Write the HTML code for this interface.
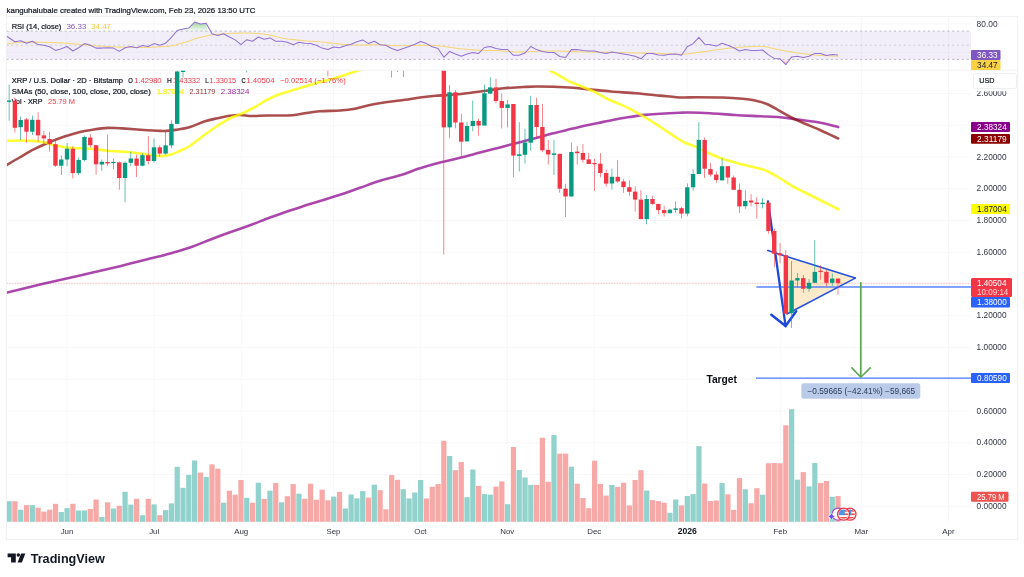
<!DOCTYPE html>
<html lang="en"><head><meta charset="utf-8"><title>XRP / U.S. Dollar chart</title>
<style>html,body{margin:0;padding:0;background:#fff}svg{display:block;filter:blur(0.35px)}</style></head>
<body>
<svg width="1024" height="577" viewBox="0 0 1024 577" font-family="'Liberation Sans', Arial, sans-serif">
<defs><clipPath id="cm"><rect x="6.4" y="70.2" width="964.6" height="452"/></clipPath><clipPath id="cr"><rect x="6.4" y="16.4" width="964.6" height="53.8"/></clipPath><linearGradient id="gg" x1="0" y1="0" x2="0" y2="1"><stop offset="0" stop-color="#4caf50" stop-opacity="0.55"/><stop offset="1" stop-color="#4caf50" stop-opacity="0.05"/></linearGradient><linearGradient id="rg" x1="0" y1="0" x2="0" y2="1"><stop offset="0" stop-color="#f23645" stop-opacity="0.05"/><stop offset="1" stop-color="#f23645" stop-opacity="0.45"/></linearGradient><clipPath id="f1"><circle cx="843.6" cy="514.2" r="4.8"/></clipPath><clipPath id="f2"><circle cx="850" cy="514.2" r="4.8"/></clipPath></defs>
<rect width="1024" height="577" fill="#fff"/>
<text x="6.6" y="12.7" font-size="8.1" fill="#131722" textLength="248.9" lengthAdjust="spacingAndGlyphs" stroke="#131722" stroke-width="0.22">kanguhalubale created with TradingView.com, Feb 23, 2026 13:50 UTC</text>
<g stroke="#f7f7f9" stroke-width="1" fill="none">
<line x1="67" y1="16.4" x2="67" y2="522"/>
<line x1="154" y1="16.4" x2="154" y2="522"/>
<line x1="241.25" y1="16.4" x2="241.25" y2="522"/>
<line x1="333.5" y1="16.4" x2="333.5" y2="522"/>
<line x1="420.25" y1="16.4" x2="420.25" y2="522"/>
<line x1="507.25" y1="16.4" x2="507.25" y2="522"/>
<line x1="594" y1="16.4" x2="594" y2="522"/>
<line x1="687" y1="16.4" x2="687" y2="522"/>
<line x1="780.3" y1="16.4" x2="780.3" y2="522"/>
<line x1="861.3" y1="16.4" x2="861.3" y2="522"/>
<line x1="948.5" y1="16.4" x2="948.5" y2="522"/>
<line x1="6.4" y1="506.3" x2="971" y2="506.3"/>
<line x1="6.4" y1="474.54" x2="971" y2="474.54"/>
<line x1="6.4" y1="442.78" x2="971" y2="442.78"/>
<line x1="6.4" y1="411.02" x2="971" y2="411.02"/>
<line x1="6.4" y1="379.26" x2="971" y2="379.26"/>
<line x1="6.4" y1="347.5" x2="971" y2="347.5"/>
<line x1="6.4" y1="315.74" x2="971" y2="315.74"/>
<line x1="6.4" y1="283.98" x2="971" y2="283.98"/>
<line x1="6.4" y1="252.22" x2="971" y2="252.22"/>
<line x1="6.4" y1="220.46" x2="971" y2="220.46"/>
<line x1="6.4" y1="188.7" x2="971" y2="188.7"/>
<line x1="6.4" y1="156.94" x2="971" y2="156.94"/>
<line x1="6.4" y1="125.18" x2="971" y2="125.18"/>
<line x1="6.4" y1="93.42" x2="971" y2="93.42"/>
<line x1="6.4" y1="24" x2="971" y2="24"/>
<line x1="6.4" y1="52.3" x2="971" y2="52.3"/>
</g>
<rect x="6.4" y="31.1" width="964.6" height="28.3" fill="#7e57c2" fill-opacity="0.1"/>
<g stroke="#a3a5ad" stroke-width="0.75" stroke-dasharray="2.1 2.75" fill="none">
<line x1="6.4" y1="31.1" x2="971" y2="31.1"/>
<line x1="6.4" y1="45.2" x2="971" y2="45.2" stroke-opacity="0.6"/>
<line x1="6.4" y1="59.4" x2="971" y2="59.4"/>
</g>
<text x="11.7" y="29.2" font-size="7.6" fill="#131722" textLength="49.7" lengthAdjust="spacingAndGlyphs" stroke="#131722" stroke-width="0.22">RSI (14, close)</text>
<text x="66.4" y="29.2" font-size="7.6" fill="#7e57c2" textLength="20" lengthAdjust="spacingAndGlyphs">36.33</text>
<text x="91.2" y="29.2" font-size="7.6" fill="#f7c843" textLength="19.8" lengthAdjust="spacingAndGlyphs">34.47</text>
<g clip-path="url(#cr)">
<path d="M176.2,31.1 L177.2,30.5 183,28.9 188.79,28 194.59,22.1 200.38,24.1 206.18,23.3 L207.68,31.1 Z" fill="url(#gg)"/>
<path d="M780.63,59.4 L785.83,64.7 L789.63,59.4 Z" fill="url(#rg)"/>
<path d="M6.4,44.2 C8.58,43.87 14.07,42.53 19.5,42.2 C24.93,41.87 32.48,42.1 39,42.2 C45.52,42.3 52.1,42.47 58.6,42.8 C65.1,43.13 71.48,43.65 78,44.2 C84.52,44.75 91.2,45.62 97.7,46.1 C104.2,46.58 110.5,46.87 117,47.1 C123.5,47.33 130.2,47.5 136.7,47.5 C143.2,47.5 150.12,47.4 156,47.1 C161.88,46.8 167.08,46.52 172,45.7 C176.92,44.88 180.92,43.55 185.5,42.2 C190.08,40.85 195.53,38.73 199.5,37.6 C203.47,36.47 206.05,35.97 209.3,35.4 C212.55,34.83 215.75,34.53 219,34.2 C222.25,33.87 225.53,33.6 228.8,33.4 C232.07,33.2 235.33,33.07 238.6,33 C241.87,32.93 245.17,32.9 248.4,33 C251.63,33.1 254.73,33.3 258,33.6 C261.27,33.9 264.72,34.23 268,34.8 C271.28,35.37 274.47,36.32 277.7,37 C280.93,37.68 284.15,38.42 287.4,38.9 C290.65,39.38 293.93,39.57 297.2,39.9 C300.47,40.23 303.75,40.62 307,40.9 C310.25,41.18 313.45,41.32 316.7,41.6 C319.95,41.88 323.24,42.27 326.5,42.6 C329.76,42.93 333,43.27 336.25,43.6 C339.5,43.93 342.74,44.37 346,44.6 C349.26,44.83 352.55,44.93 355.8,45 C359.05,45.07 361.55,45.03 365.5,45 C369.45,44.97 373.92,44.68 379.5,44.8 C385.08,44.92 392.48,45.63 399,45.7 C405.52,45.77 412.1,45.2 418.6,45.2 C425.1,45.2 433.12,45.38 438,45.7 C442.88,46.02 444.62,46.63 447.9,47.1 C451.18,47.57 454.45,48.1 457.7,48.5 C460.95,48.9 464.15,49.25 467.4,49.5 C470.65,49.75 473.93,49.85 477.2,50 C480.47,50.15 483.75,50.3 487,50.4 C490.25,50.5 493.45,50.43 496.7,50.6 C499.95,50.77 503.24,51.17 506.5,51.4 C509.76,51.63 513,51.93 516.25,52 C519.5,52.07 522.74,51.9 526,51.8 C529.26,51.7 532.55,51.53 535.8,51.4 C539.05,51.27 541.55,51.07 545.5,51 C549.45,50.93 553.92,50.87 559.5,51 C565.08,51.13 572.48,51.6 579,51.8 C585.52,52 592.1,52.07 598.6,52.2 C605.1,52.33 611.48,52.47 618,52.6 C624.52,52.73 631.17,52.83 637.7,53 C644.23,53.17 650.7,53.38 657.2,53.6 C663.7,53.82 671.82,54.23 676.7,54.3 C681.58,54.37 683.24,54.28 686.5,54 C689.76,53.72 693,53.03 696.25,52.6 C699.5,52.17 702.74,51.83 706,51.4 C709.26,50.97 712.55,50.48 715.8,50 C719.05,49.52 721.55,48.97 725.5,48.5 C729.45,48.03 735.53,47.5 739.5,47.2 C743.47,46.9 745.72,46.85 749.3,46.7 C752.88,46.55 757.75,46.17 761,46.3 C764.25,46.43 765.87,46.95 768.8,47.5 C771.73,48.05 775.33,48.92 778.6,49.6 C781.87,50.28 785.17,51.03 788.4,51.6 C791.63,52.17 794.73,52.55 798,53 C801.27,53.45 804.72,53.92 808,54.3 C811.28,54.68 814.47,55.07 817.7,55.3 C820.93,55.53 823.95,55.53 827.4,55.7 C830.85,55.87 836.57,56.2 838.4,56.3" fill="none" stroke="#f6d677" stroke-width="1.05" stroke-linejoin="round"/>
<polyline points="6.4,36 14.9,41.8 20.69,40.7 26.49,43.2 32.29,41.25 38.08,44.6 43.88,45.2 49.68,46.7 55.47,50.4 61.27,48.7 67.06,46.5 72.86,51 78.66,47.7 84.45,43.6 90.25,45.2 96.05,48.1 101.84,48.1 107.64,47.7 113.44,48.1 119.23,51.4 125.03,47.7 130.83,46.5 136.62,47.7 142.42,45.5 148.22,46.5 154.01,43.6 159.81,45.2 165.61,43.2 171.4,37.3 177.2,30.5 183,28.9 188.79,28 194.59,22.1 200.38,24.1 206.18,23.3 211.98,33.8 217.77,35.4 223.57,33.8 229.37,37 235.16,39.9 240.96,44.6 246.76,39.7 252.55,41.25 258.35,37 264.15,39.3 269.94,37.9 275.74,41.25 281.54,41.25 287.33,42.2 293.13,44.8 298.93,42.2 304.72,43.2 310.52,43.6 316.31,45.2 322.11,48.1 327.91,49.6 333.7,47.1 339.5,47.7 345.3,45.7 351.09,44.2 356.89,41.8 362.69,39.9 368.48,43.6 374.28,41.25 380.08,44.8 385.87,45.2 391.67,48.5 397.47,50.4 403.26,48.5 409.06,46.5 414.86,44.2 420.65,41.6 426.45,43.6 432.24,46.7 438.04,48.5 443.84,57.3 449.63,51.4 455.43,54 461.23,56.3 467.02,54 472.82,52.6 478.62,53.4 484.41,47.5 490.21,46.5 496.01,48.5 501.8,49.6 507.6,49.5 513.4,55.3 519.19,55.3 524.99,53 530.78,46.5 536.58,49.6 542.38,51.6 548.17,52.4 553.97,52.4 559.77,56.5 565.56,57.5 571.36,49.6 577.16,49.6 582.95,50.4 588.75,51 594.55,51 600.34,52.6 606.14,53.6 611.94,52 617.73,53 623.53,54 629.33,54.9 635.12,56.3 640.92,58.8 646.72,53.4 652.51,53.6 658.31,54.9 664.1,55.3 669.9,54.3 675.7,54 681.49,55.3 687.29,46.7 693.09,43.6 698.88,37.3 704.68,44.2 710.48,44.8 716.27,46.1 722.07,43.2 727.87,45.2 733.66,47.7 739.46,51 745.26,49.6 751.05,50.4 756.85,50.4 762.64,50 768.44,54.9 774.24,58.4 780.03,58.8 785.83,64.7 791.63,56.9 797.42,56.3 803.22,57.5 809.02,56.3 814.81,53.4 820.61,53.6 826.41,55.5 832.2,54.5 838,54.9" fill="none" stroke="#9272d2" stroke-width="1.05" stroke-linejoin="round"/>
</g>
<g clip-path="url(#cm)">
<rect x="6.5" y="501.2" width="5.25" height="20.6" fill="#92d2cc"/>
<rect x="12.3" y="501.2" width="5.25" height="20.6" fill="#f7a9a7"/>
<rect x="18.09" y="509.7" width="5.25" height="12.1" fill="#92d2cc"/>
<rect x="23.89" y="505.1" width="5.25" height="16.7" fill="#f7a9a7"/>
<rect x="29.69" y="505.1" width="5.25" height="16.7" fill="#92d2cc"/>
<rect x="35.48" y="507.7" width="5.25" height="14.1" fill="#f7a9a7"/>
<rect x="41.28" y="511.6" width="5.25" height="10.2" fill="#f7a9a7"/>
<rect x="47.08" y="509.7" width="5.25" height="12.1" fill="#f7a9a7"/>
<rect x="52.87" y="503.8" width="5.25" height="18" fill="#f7a9a7"/>
<rect x="58.67" y="512" width="5.25" height="9.8" fill="#92d2cc"/>
<rect x="64.47" y="508.1" width="5.25" height="13.7" fill="#92d2cc"/>
<rect x="70.26" y="503.8" width="5.25" height="18" fill="#f7a9a7"/>
<rect x="76.06" y="510.5" width="5.25" height="11.3" fill="#92d2cc"/>
<rect x="81.85" y="510.5" width="5.25" height="11.3" fill="#92d2cc"/>
<rect x="87.65" y="508.9" width="5.25" height="12.9" fill="#f7a9a7"/>
<rect x="93.45" y="499.5" width="5.25" height="22.3" fill="#f7a9a7"/>
<rect x="99.24" y="516.9" width="5.25" height="4.9" fill="#92d2cc"/>
<rect x="105.04" y="502.3" width="5.25" height="19.5" fill="#f7a9a7"/>
<rect x="110.84" y="508.5" width="5.25" height="13.3" fill="#92d2cc"/>
<rect x="116.63" y="505.8" width="5.25" height="16" fill="#f7a9a7"/>
<rect x="122.43" y="491.8" width="5.25" height="30" fill="#92d2cc"/>
<rect x="128.23" y="504.6" width="5.25" height="17.2" fill="#92d2cc"/>
<rect x="134.02" y="498.8" width="5.25" height="23" fill="#f7a9a7"/>
<rect x="139.82" y="515.2" width="5.25" height="6.6" fill="#92d2cc"/>
<rect x="145.62" y="498.8" width="5.25" height="23" fill="#f7a9a7"/>
<rect x="151.41" y="504.4" width="5.25" height="17.4" fill="#92d2cc"/>
<rect x="157.21" y="515.2" width="5.25" height="6.6" fill="#f7a9a7"/>
<rect x="163.01" y="510.1" width="5.25" height="11.7" fill="#92d2cc"/>
<rect x="168.8" y="503.4" width="5.25" height="18.4" fill="#92d2cc"/>
<rect x="174.6" y="466.8" width="5.25" height="55" fill="#92d2cc"/>
<rect x="180.4" y="487.8" width="5.25" height="34" fill="#92d2cc"/>
<rect x="186.19" y="474.9" width="5.25" height="46.9" fill="#92d2cc"/>
<rect x="191.99" y="460.5" width="5.25" height="61.3" fill="#92d2cc"/>
<rect x="197.78" y="472.6" width="5.25" height="49.2" fill="#f7a9a7"/>
<rect x="203.58" y="476.9" width="5.25" height="44.9" fill="#92d2cc"/>
<rect x="209.38" y="464.4" width="5.25" height="57.4" fill="#f7a9a7"/>
<rect x="215.17" y="468.7" width="5.25" height="53.1" fill="#f7a9a7"/>
<rect x="220.97" y="502.7" width="5.25" height="19.1" fill="#92d2cc"/>
<rect x="226.77" y="490.7" width="5.25" height="31.1" fill="#f7a9a7"/>
<rect x="232.56" y="494.7" width="5.25" height="27.1" fill="#f7a9a7"/>
<rect x="238.36" y="480" width="5.25" height="41.8" fill="#f7a9a7"/>
<rect x="244.16" y="497.8" width="5.25" height="24" fill="#92d2cc"/>
<rect x="249.95" y="502.7" width="5.25" height="19.1" fill="#f7a9a7"/>
<rect x="255.75" y="482.7" width="5.25" height="39.1" fill="#92d2cc"/>
<rect x="261.55" y="498.9" width="5.25" height="22.9" fill="#f7a9a7"/>
<rect x="267.34" y="490.7" width="5.25" height="31.1" fill="#92d2cc"/>
<rect x="273.14" y="482.9" width="5.25" height="38.9" fill="#f7a9a7"/>
<rect x="278.94" y="502.3" width="5.25" height="19.5" fill="#92d2cc"/>
<rect x="284.73" y="496.2" width="5.25" height="25.6" fill="#f7a9a7"/>
<rect x="290.53" y="484.1" width="5.25" height="37.7" fill="#f7a9a7"/>
<rect x="296.32" y="493.7" width="5.25" height="28.1" fill="#92d2cc"/>
<rect x="302.12" y="498.8" width="5.25" height="23" fill="#f7a9a7"/>
<rect x="307.92" y="483.7" width="5.25" height="38.1" fill="#f7a9a7"/>
<rect x="313.71" y="499.7" width="5.25" height="22.1" fill="#f7a9a7"/>
<rect x="319.51" y="489.6" width="5.25" height="32.2" fill="#f7a9a7"/>
<rect x="325.31" y="500.3" width="5.25" height="21.5" fill="#f7a9a7"/>
<rect x="331.1" y="496.6" width="5.25" height="25.2" fill="#92d2cc"/>
<rect x="336.9" y="491.9" width="5.25" height="29.9" fill="#f7a9a7"/>
<rect x="342.7" y="508.5" width="5.25" height="13.3" fill="#92d2cc"/>
<rect x="348.49" y="494.5" width="5.25" height="27.3" fill="#92d2cc"/>
<rect x="354.29" y="498.4" width="5.25" height="23.4" fill="#92d2cc"/>
<rect x="360.09" y="491.1" width="5.25" height="30.7" fill="#92d2cc"/>
<rect x="365.88" y="497.6" width="5.25" height="24.2" fill="#f7a9a7"/>
<rect x="371.68" y="484.7" width="5.25" height="37.1" fill="#92d2cc"/>
<rect x="377.48" y="490.2" width="5.25" height="31.6" fill="#f7a9a7"/>
<rect x="383.27" y="509.3" width="5.25" height="12.5" fill="#f7a9a7"/>
<rect x="389.07" y="475.1" width="5.25" height="46.7" fill="#f7a9a7"/>
<rect x="394.87" y="479.8" width="5.25" height="42" fill="#f7a9a7"/>
<rect x="400.66" y="489.2" width="5.25" height="32.6" fill="#92d2cc"/>
<rect x="406.46" y="498.4" width="5.25" height="23.4" fill="#92d2cc"/>
<rect x="412.25" y="492.5" width="5.25" height="29.3" fill="#92d2cc"/>
<rect x="418.05" y="480" width="5.25" height="41.8" fill="#92d2cc"/>
<rect x="423.85" y="498.4" width="5.25" height="23.4" fill="#f7a9a7"/>
<rect x="429.64" y="486.8" width="5.25" height="35" fill="#f7a9a7"/>
<rect x="435.44" y="484.1" width="5.25" height="37.7" fill="#f7a9a7"/>
<rect x="441.24" y="440.8" width="5.25" height="81" fill="#f7a9a7"/>
<rect x="447.03" y="456" width="5.25" height="65.8" fill="#92d2cc"/>
<rect x="452.83" y="470.2" width="5.25" height="51.6" fill="#f7a9a7"/>
<rect x="458.63" y="462" width="5.25" height="59.8" fill="#f7a9a7"/>
<rect x="464.42" y="497.2" width="5.25" height="24.6" fill="#92d2cc"/>
<rect x="470.22" y="469.5" width="5.25" height="52.3" fill="#92d2cc"/>
<rect x="476.02" y="485.9" width="5.25" height="35.9" fill="#f7a9a7"/>
<rect x="481.81" y="494.1" width="5.25" height="27.7" fill="#92d2cc"/>
<rect x="487.61" y="494.7" width="5.25" height="27.1" fill="#92d2cc"/>
<rect x="493.41" y="486.6" width="5.25" height="35.2" fill="#f7a9a7"/>
<rect x="499.2" y="481.4" width="5.25" height="40.4" fill="#f7a9a7"/>
<rect x="505" y="504.2" width="5.25" height="17.6" fill="#92d2cc"/>
<rect x="510.8" y="447" width="5.25" height="74.8" fill="#f7a9a7"/>
<rect x="516.59" y="470" width="5.25" height="51.8" fill="#92d2cc"/>
<rect x="522.39" y="477.5" width="5.25" height="44.3" fill="#92d2cc"/>
<rect x="528.18" y="484.9" width="5.25" height="36.9" fill="#92d2cc"/>
<rect x="533.98" y="484.9" width="5.25" height="36.9" fill="#f7a9a7"/>
<rect x="539.78" y="437.8" width="5.25" height="84" fill="#f7a9a7"/>
<rect x="545.57" y="481.8" width="5.25" height="40" fill="#f7a9a7"/>
<rect x="551.37" y="435.1" width="5.25" height="86.7" fill="#92d2cc"/>
<rect x="557.17" y="453.6" width="5.25" height="68.2" fill="#f7a9a7"/>
<rect x="562.96" y="453.6" width="5.25" height="68.2" fill="#f7a9a7"/>
<rect x="568.76" y="466.7" width="5.25" height="55.1" fill="#92d2cc"/>
<rect x="574.56" y="483.7" width="5.25" height="38.1" fill="#f7a9a7"/>
<rect x="580.35" y="498" width="5.25" height="23.8" fill="#f7a9a7"/>
<rect x="586.15" y="508.1" width="5.25" height="13.7" fill="#f7a9a7"/>
<rect x="591.95" y="460.7" width="5.25" height="61.1" fill="#f7a9a7"/>
<rect x="597.74" y="483.9" width="5.25" height="37.9" fill="#f7a9a7"/>
<rect x="603.54" y="495.6" width="5.25" height="26.2" fill="#f7a9a7"/>
<rect x="609.34" y="484.9" width="5.25" height="36.9" fill="#92d2cc"/>
<rect x="615.13" y="486.8" width="5.25" height="35" fill="#f7a9a7"/>
<rect x="620.93" y="482.7" width="5.25" height="39.1" fill="#f7a9a7"/>
<rect x="626.73" y="505.4" width="5.25" height="16.4" fill="#f7a9a7"/>
<rect x="632.52" y="480" width="5.25" height="41.8" fill="#f7a9a7"/>
<rect x="638.32" y="470.2" width="5.25" height="51.6" fill="#f7a9a7"/>
<rect x="644.12" y="490.55" width="5.25" height="31.25" fill="#92d2cc"/>
<rect x="649.91" y="500.1" width="5.25" height="21.7" fill="#f7a9a7"/>
<rect x="655.71" y="501.1" width="5.25" height="20.7" fill="#f7a9a7"/>
<rect x="661.5" y="502.7" width="5.25" height="19.1" fill="#f7a9a7"/>
<rect x="667.3" y="512.8" width="5.25" height="9" fill="#92d2cc"/>
<rect x="673.1" y="499.5" width="5.25" height="22.3" fill="#92d2cc"/>
<rect x="678.89" y="505.4" width="5.25" height="16.4" fill="#f7a9a7"/>
<rect x="684.69" y="496" width="5.25" height="25.8" fill="#92d2cc"/>
<rect x="690.49" y="494.1" width="5.25" height="27.7" fill="#92d2cc"/>
<rect x="696.28" y="446.2" width="5.25" height="75.6" fill="#92d2cc"/>
<rect x="702.08" y="483.5" width="5.25" height="38.3" fill="#f7a9a7"/>
<rect x="707.88" y="501.1" width="5.25" height="20.7" fill="#f7a9a7"/>
<rect x="713.67" y="500.5" width="5.25" height="21.3" fill="#f7a9a7"/>
<rect x="719.47" y="483.1" width="5.25" height="38.7" fill="#92d2cc"/>
<rect x="725.27" y="494.3" width="5.25" height="27.5" fill="#f7a9a7"/>
<rect x="731.06" y="509.9" width="5.25" height="11.9" fill="#f7a9a7"/>
<rect x="736.86" y="478.05" width="5.25" height="43.75" fill="#f7a9a7"/>
<rect x="742.66" y="489.2" width="5.25" height="32.6" fill="#92d2cc"/>
<rect x="748.45" y="503.2" width="5.25" height="18.6" fill="#f7a9a7"/>
<rect x="754.25" y="488.2" width="5.25" height="33.6" fill="#f7a9a7"/>
<rect x="760.04" y="494.7" width="5.25" height="27.1" fill="#92d2cc"/>
<rect x="765.84" y="463.3" width="5.25" height="58.5" fill="#f7a9a7"/>
<rect x="771.64" y="463" width="5.25" height="58.8" fill="#f7a9a7"/>
<rect x="777.43" y="463.3" width="5.25" height="58.5" fill="#f7a9a7"/>
<rect x="783.23" y="425.3" width="5.25" height="96.5" fill="#f7a9a7"/>
<rect x="789.03" y="409.2" width="5.25" height="112.6" fill="#92d2cc"/>
<rect x="794.82" y="479.7" width="5.25" height="42.1" fill="#92d2cc"/>
<rect x="800.62" y="472.1" width="5.25" height="49.7" fill="#f7a9a7"/>
<rect x="806.42" y="486.4" width="5.25" height="35.4" fill="#92d2cc"/>
<rect x="812.21" y="463" width="5.25" height="58.8" fill="#92d2cc"/>
<rect x="818.01" y="483" width="5.25" height="38.8" fill="#f7a9a7"/>
<rect x="823.81" y="481" width="5.25" height="40.8" fill="#f7a9a7"/>
<rect x="829.6" y="496.8" width="5.25" height="25" fill="#92d2cc"/>
<rect x="835.4" y="496" width="5.25" height="25.8" fill="#f7a9a7"/>
<line x1="6.4" y1="283.2" x2="971" y2="283.2" stroke="#f23645" stroke-opacity="0.5" stroke-width="0.6" stroke-dasharray="1.6 1.1"/>
<path d="M6.25,292.7 C11.88,291.35 27.71,287.47 40,284.6 C52.29,281.73 66.67,278.57 80,275.5 C93.33,272.43 108.33,269.02 120,266.2 C131.67,263.38 141.67,260.73 150,258.6 C158.33,256.47 163.33,255.25 170,253.4 C176.67,251.55 183.33,249.78 190,247.5 C196.67,245.22 203.33,242.23 210,239.7 C216.67,237.17 223.33,234.7 230,232.3 C236.67,229.9 243.33,227.77 250,225.3 C256.67,222.83 263.33,219.97 270,217.5 C276.67,215.03 283.33,212.77 290,210.5 C296.67,208.23 305,205.47 310,203.9 C315,202.33 315,202.62 320,201.1 C325,199.58 333.33,197.02 340,194.8 C346.67,192.58 353.33,190.13 360,187.8 C366.67,185.47 373.33,182.88 380,180.8 C386.67,178.72 393.33,177.38 400,175.3 C406.67,173.22 413.33,170.43 420,168.3 C426.67,166.17 433.33,164.25 440,162.5 C446.67,160.75 453.17,159.5 460,157.8 C466.83,156.1 474.33,154.03 481,152.3 C487.67,150.57 493.5,149.08 500,147.4 C506.5,145.72 514,143.77 520,142.2 C526,140.63 530.79,139.4 536,138 C541.21,136.6 546.1,135.13 551.25,133.8 C556.4,132.47 561.69,131.25 566.9,130 C572.11,128.75 577.3,127.47 582.5,126.3 C587.7,125.13 592.89,124.1 598.1,123 C603.31,121.9 608.53,120.7 613.75,119.7 C618.97,118.7 624.19,117.8 629.4,117 C634.61,116.2 639.8,115.43 645,114.9 C650.2,114.37 654.77,114.17 660.6,113.8 C666.43,113.43 675.1,112.92 680,112.7 C684.9,112.48 685,112.41 690,112.5 C695,112.59 702.5,112.83 710,113.25 C717.5,113.67 726.67,114.5 735,115 C743.33,115.5 752.5,115.87 760,116.25 C767.5,116.63 773.75,116.76 780,117.3 C786.25,117.84 791.67,118.76 797.5,119.5 C803.33,120.24 810,120.96 815,121.75 C820,122.54 823.63,123.36 827.5,124.25 C831.37,125.14 836.42,126.62 838.2,127.1" fill="none" stroke="#8b008b" stroke-opacity="0.72" stroke-width="2.6" stroke-linejoin="round" stroke-linecap="round"/>
<path d="M6.4,165.3 C8.58,164 15.03,160.1 19.5,157.5 C23.97,154.9 28.32,152.2 33.2,149.7 C38.08,147.2 43.58,144.68 48.8,142.5 C54.02,140.32 59.3,138.35 64.5,136.6 C69.7,134.85 75.12,133.18 80,132 C84.88,130.82 90.15,130.1 93.75,129.5 C97.35,128.9 99.26,128.67 101.6,128.4 C103.94,128.13 105.57,127.97 107.8,127.9 C110.03,127.83 112.65,127.92 115,128 C117.35,128.08 117.63,128.12 121.9,128.4 C126.17,128.68 134.25,129.28 140.6,129.7 C146.95,130.12 155.77,130.7 160,130.9 C164.23,131.1 163.37,131.07 166,130.9 C168.63,130.73 171.8,130.55 175.8,129.9 C179.8,129.25 185.13,128.44 190,127 C194.87,125.56 200.42,122.71 205,121.25 C209.58,119.79 213.33,119.17 217.5,118.25 C221.67,117.33 226.25,116.29 230,115.75 C233.75,115.21 236.25,114.96 240,115 C243.75,115.04 247.92,115.92 252.5,116 C257.08,116.08 260.83,115.62 267.5,115.5 C274.17,115.38 286.25,115.62 292.5,115.25 C298.75,114.88 300.42,113.92 305,113.25 C309.58,112.58 314.17,111.71 320,111.25 C325.83,110.79 334.17,110.92 340,110.5 C345.83,110.08 350,109.67 355,108.75 C360,107.83 364.58,106.12 370,105 C375.42,103.88 381.67,102.87 387.5,102 C393.33,101.13 399.58,100.55 405,99.8 C410.42,99.05 414.83,98.17 420,97.5 C425.17,96.83 429.17,96.33 436,95.75 C442.83,95.17 452.67,94.83 461,94 C469.33,93.17 478.92,91.71 486,90.75 C493.08,89.79 497.25,88.88 503.5,88.25 C509.75,87.62 518.08,87.29 523.5,87 C528.92,86.71 531,86.54 536,86.5 C541,86.46 547.25,86.54 553.5,86.75 C559.75,86.96 567.25,87.29 573.5,87.75 C579.75,88.21 584.75,88.88 591,89.5 C597.25,90.12 603.5,90.88 611,91.5 C618.5,92.12 627.83,92.57 636,93.25 C644.17,93.93 653.33,94.94 660,95.6 C666.67,96.26 671.83,96.88 676,97.2 C680.17,97.52 681.42,97.49 685,97.5 C688.58,97.51 691.25,97.25 697.5,97.25 C703.75,97.25 715,97.25 722.5,97.5 C730,97.75 737.08,98.25 742.5,98.75 C747.92,99.25 750.83,99.58 755,100.5 C759.17,101.42 763.33,102.48 767.5,104.25 C771.67,106.02 775.83,108.81 780,111.1 C784.17,113.39 788.33,115.89 792.5,118 C796.67,120.11 800.42,121.75 805,123.75 C809.58,125.75 814.47,127.54 820,130 C825.53,132.46 835.17,137.08 838.2,138.5" fill="none" stroke="#8b0a0a" stroke-opacity="0.72" stroke-width="2.6" stroke-linejoin="round" stroke-linecap="round"/>
<path d="M6.4,140.9 C8.58,140.83 15.03,140.5 19.5,140.5 C23.97,140.5 28.95,140.57 33.2,140.9 C37.45,141.23 41.1,141.68 45,142.5 C48.9,143.32 52.7,144.93 56.6,145.8 C60.5,146.67 64.83,147.28 68.4,147.7 C71.97,148.12 74.1,148.13 78,148.3 C81.9,148.47 86.9,148.3 91.8,148.7 C96.7,149.1 101.53,150.15 107.4,150.7 C113.27,151.25 121.47,151.52 127,152 C132.53,152.48 136.38,153.02 140.6,153.6 C144.82,154.18 148.73,155.1 152.3,155.5 C155.87,155.9 158.73,156.22 162,156 C165.27,155.78 168.9,155.07 171.9,154.2 C174.9,153.32 176.98,152.16 180,150.75 C183.02,149.34 185.83,148.46 190,145.75 C194.17,143.04 200.42,137.83 205,134.5 C209.58,131.17 213.33,128.46 217.5,125.75 C221.67,123.04 225.83,120.33 230,118.25 C234.17,116.17 238.33,115.12 242.5,113.25 C246.67,111.38 250.83,109.29 255,107 C259.17,104.71 263.33,101.67 267.5,99.5 C271.67,97.33 275.83,95.54 280,94 C284.17,92.46 288.33,91.5 292.5,90.25 C296.67,89 300.83,87.75 305,86.5 C309.17,85.25 313.33,83.92 317.5,82.75 C321.67,81.58 325.83,80.67 330,79.5 C334.17,78.33 337.92,77.21 342.5,75.75 C347.08,74.29 353.58,72.04 357.5,70.75 C361.42,69.46 364.58,68.46 366,68" fill="none" stroke="#ffff00" stroke-opacity="0.78" stroke-width="2.6" stroke-linejoin="round" stroke-linecap="round"/>
<path d="M544,66 C545,66.77 547.43,69 550,70.6 C552.57,72.2 556.27,73.85 559.4,75.6 C562.52,77.35 565.63,79.53 568.75,81.1 C571.87,82.67 574.98,83.7 578.1,85 C581.23,86.3 584.37,87.55 587.5,88.9 C590.63,90.25 593.57,91.42 596.9,93.1 C600.23,94.78 604.65,97.55 607.5,99 C610.35,100.45 611.65,100.82 614,101.8 C616.35,102.78 619.03,103.75 621.6,104.9 C624.17,106.05 626.8,107.37 629.4,108.7 C632,110.03 634.6,111.47 637.2,112.9 C639.8,114.33 642.4,115.78 645,117.3 C647.6,118.82 650.2,120.35 652.8,122 C655.4,123.65 658,125.47 660.6,127.2 C663.2,128.93 665.79,130.67 668.4,132.4 C671.01,134.13 673.48,135.88 676.25,137.6 C679.02,139.32 681.46,141.05 685,142.7 C688.54,144.35 693.33,145.66 697.5,147.5 C701.67,149.34 705.83,151.88 710,153.75 C714.17,155.62 718.33,157.29 722.5,158.75 C726.67,160.21 730.83,161.33 735,162.5 C739.17,163.67 743.33,164.71 747.5,165.75 C751.67,166.79 756.67,167.83 760,168.75 C763.33,169.67 764.17,169.67 767.5,171.25 C770.83,172.83 775.83,175.75 780,178.25 C784.17,180.75 788.33,183.88 792.5,186.25 C796.67,188.62 800.42,190.21 805,192.5 C809.58,194.79 814.43,197.21 820,200 C825.57,202.79 835.33,207.71 838.4,209.25" fill="none" stroke="#ffff00" stroke-opacity="0.78" stroke-width="2.6" stroke-linejoin="round" stroke-linecap="round"/>
</g>
<text x="11.7" y="83.1" font-size="7.6" fill="#131722" textLength="111.4" lengthAdjust="spacingAndGlyphs" stroke="#131722" stroke-width="0.22">XRP / U.S. Dollar · 2D · Bitstamp</text>
<text x="128.2" y="83.1" font-size="7.6" fill="#131722" textLength="4.6" lengthAdjust="spacingAndGlyphs" stroke="#131722" stroke-width="0.22">O</text>
<text x="134.2" y="83.1" font-size="7.6" fill="#f23645" textLength="27.4" lengthAdjust="spacingAndGlyphs">1.42980</text>
<text x="167" y="83.1" font-size="7.6" fill="#131722" textLength="4.8" lengthAdjust="spacingAndGlyphs" stroke="#131722" stroke-width="0.22">H</text>
<text x="173" y="83.1" font-size="7.6" fill="#f23645" textLength="27.2" lengthAdjust="spacingAndGlyphs">1.43332</text>
<text x="205.3" y="83.1" font-size="7.6" fill="#131722" textLength="3.4" lengthAdjust="spacingAndGlyphs" stroke="#131722" stroke-width="0.22">L</text>
<text x="209.5" y="83.1" font-size="7.6" fill="#f23645" textLength="26.7" lengthAdjust="spacingAndGlyphs">1.33015</text>
<text x="241.4" y="83.1" font-size="7.6" fill="#131722" textLength="4.2" lengthAdjust="spacingAndGlyphs" stroke="#131722" stroke-width="0.22">C</text>
<text x="246.3" y="83.1" font-size="7.6" fill="#f23645" textLength="28.2" lengthAdjust="spacingAndGlyphs">1.40504</text>
<text x="280" y="83.1" font-size="7.6" fill="#f23645" textLength="65.7" lengthAdjust="spacingAndGlyphs">−0.02514 (−1.76%)</text>
<text x="11.7" y="93.5" font-size="7.6" fill="#131722" textLength="139.1" lengthAdjust="spacingAndGlyphs" stroke="#131722" stroke-width="0.22">SMAs (50, close, 100, close, 200, close)</text>
<text x="156.8" y="93.5" font-size="7.6" fill="#f7f228" textLength="27.3" lengthAdjust="spacingAndGlyphs" stroke="#f7f228" stroke-width="0.25">1.87004</text>
<text x="189.6" y="93.5" font-size="7.6" fill="#94302f" textLength="25.6" lengthAdjust="spacingAndGlyphs">2.31179</text>
<text x="220.7" y="93.5" font-size="7.6" fill="#9a2a9c" textLength="28.8" lengthAdjust="spacingAndGlyphs">2.38324</text>
<text x="11.7" y="104.2" font-size="7.6" fill="#131722" textLength="30.8" lengthAdjust="spacingAndGlyphs" stroke="#131722" stroke-width="0.22">Vol · XRP</text>
<text x="48" y="104.2" font-size="7.6" fill="#f23645" textLength="26.9" lengthAdjust="spacingAndGlyphs">25.79 M</text>
<g clip-path="url(#cm)">
<polygon points="786.5,256.4 855.3,278.1 786.5,314" fill="#ff9800" fill-opacity="0.2"/>
<g fill="none" stroke="#1e49d8" stroke-width="2.3" stroke-linecap="round" stroke-linejoin="round">
<line x1="768" y1="201.5" x2="785.6" y2="326.1"/>
<polyline points="771.3,314.8 785.6,326.1 796.2,311.3" stroke-width="2.5"/>
<line x1="767.8" y1="250.6" x2="855.3" y2="278.1" stroke-width="1.6" stroke="#2452e0"/>
<line x1="855.3" y1="278.1" x2="786.9" y2="314" stroke-width="1.6" stroke="#2452e0"/>
</g>
<line x1="756.4" y1="287" x2="971" y2="287" stroke="#2962ff" stroke-opacity="0.78" stroke-width="1.5"/>
<line x1="756" y1="378.1" x2="971" y2="378.1" stroke="#2962ff" stroke-opacity="0.85" stroke-width="1.3"/>
<rect x="8.8" y="84.7" width="0.6" height="36" fill="#089981"/>
<rect x="6.9" y="100.5" width="4.4" height="1.4" fill="#089981"/>
<rect x="14.6" y="97.5" width="0.6" height="35" fill="#f23645"/>
<rect x="12.7" y="100.8" width="4.4" height="27" fill="#f23645"/>
<rect x="20.39" y="116.5" width="0.6" height="23.5" fill="#089981"/>
<rect x="18.49" y="120" width="4.4" height="7.2" fill="#089981"/>
<rect x="26.19" y="118" width="0.6" height="24.8" fill="#f23645"/>
<rect x="24.29" y="119.4" width="4.4" height="12.3" fill="#f23645"/>
<rect x="31.99" y="115.5" width="0.6" height="19.5" fill="#089981"/>
<rect x="30.09" y="119.8" width="4.4" height="11.9" fill="#089981"/>
<rect x="37.78" y="112.2" width="0.6" height="29.7" fill="#f23645"/>
<rect x="35.88" y="119.8" width="4.4" height="15.6" fill="#f23645"/>
<rect x="43.58" y="131" width="0.6" height="12.8" fill="#f23645"/>
<rect x="41.68" y="135.4" width="4.4" height="3" fill="#f23645"/>
<rect x="49.38" y="132" width="0.6" height="19.6" fill="#f23645"/>
<rect x="47.48" y="139" width="4.4" height="5.2" fill="#f23645"/>
<rect x="55.17" y="141" width="0.6" height="26" fill="#f23645"/>
<rect x="53.27" y="144.2" width="4.4" height="21.5" fill="#f23645"/>
<rect x="60.97" y="155.5" width="0.6" height="19.5" fill="#089981"/>
<rect x="59.07" y="159.5" width="4.4" height="6.2" fill="#089981"/>
<rect x="66.77" y="142.8" width="0.6" height="23.5" fill="#089981"/>
<rect x="64.86" y="148.7" width="4.4" height="10.8" fill="#089981"/>
<rect x="72.56" y="146.2" width="0.6" height="32.2" fill="#f23645"/>
<rect x="70.66" y="148.7" width="4.4" height="24.4" fill="#f23645"/>
<rect x="78.36" y="157.5" width="0.6" height="17.5" fill="#089981"/>
<rect x="76.46" y="160" width="4.4" height="13.1" fill="#089981"/>
<rect x="84.15" y="135.6" width="0.6" height="25.8" fill="#089981"/>
<rect x="82.25" y="137" width="4.4" height="23" fill="#089981"/>
<rect x="89.95" y="134" width="0.6" height="13.7" fill="#f23645"/>
<rect x="88.05" y="137.6" width="4.4" height="7.6" fill="#f23645"/>
<rect x="95.75" y="145.2" width="0.6" height="29.5" fill="#f23645"/>
<rect x="93.85" y="145.2" width="4.4" height="19.1" fill="#f23645"/>
<rect x="101.54" y="159.5" width="0.6" height="11.3" fill="#089981"/>
<rect x="99.64" y="161.8" width="4.4" height="2.7" fill="#089981"/>
<rect x="107.34" y="134.6" width="0.6" height="31.1" fill="#f23645"/>
<rect x="105.44" y="162" width="4.4" height="1.4" fill="#f23645"/>
<rect x="113.14" y="158.5" width="0.6" height="10.7" fill="#089981"/>
<rect x="111.24" y="161.9" width="4.4" height="1.2" fill="#089981"/>
<rect x="118.93" y="161.4" width="0.6" height="28.3" fill="#f23645"/>
<rect x="117.03" y="162.4" width="4.4" height="15.6" fill="#f23645"/>
<rect x="124.73" y="161.4" width="0.6" height="41" fill="#089981"/>
<rect x="122.83" y="162.8" width="4.4" height="15.2" fill="#089981"/>
<rect x="130.53" y="151.6" width="0.6" height="14.7" fill="#089981"/>
<rect x="128.63" y="158.5" width="4.4" height="4.3" fill="#089981"/>
<rect x="136.32" y="154.6" width="0.6" height="22.4" fill="#f23645"/>
<rect x="134.42" y="158.5" width="4.4" height="7.2" fill="#f23645"/>
<rect x="142.12" y="153.2" width="0.6" height="13.1" fill="#089981"/>
<rect x="140.22" y="155.2" width="4.4" height="10.5" fill="#089981"/>
<rect x="147.92" y="136" width="0.6" height="28.3" fill="#f23645"/>
<rect x="146.02" y="155.2" width="4.4" height="5.8" fill="#f23645"/>
<rect x="153.71" y="138.4" width="0.6" height="24" fill="#089981"/>
<rect x="151.81" y="147.3" width="4.4" height="13.7" fill="#089981"/>
<rect x="159.51" y="145.4" width="0.6" height="11.1" fill="#f23645"/>
<rect x="157.61" y="147.3" width="4.4" height="6.3" fill="#f23645"/>
<rect x="165.31" y="132" width="0.6" height="22.6" fill="#089981"/>
<rect x="163.41" y="145.4" width="4.4" height="8.2" fill="#089981"/>
<rect x="171.1" y="120.4" width="0.6" height="27.6" fill="#089981"/>
<rect x="169.2" y="123.9" width="4.4" height="21.5" fill="#089981"/>
<rect x="176.9" y="70" width="0.6" height="53.9" fill="#089981"/>
<rect x="175" y="71.5" width="4.4" height="52.4" fill="#089981"/>
<rect x="182.69" y="70" width="0.6" height="7.6" fill="#089981"/>
<rect x="180.8" y="70" width="4.4" height="2" fill="#089981"/>
<rect x="246.46" y="70" width="0.6" height="2.5" fill="#089981"/>
<rect x="327.61" y="70" width="0.6" height="6.5" fill="#f23645"/>
<rect x="391.37" y="70" width="0.6" height="7.5" fill="#f23645"/>
<rect x="397.17" y="70" width="0.6" height="2" fill="#f23645"/>
<rect x="402.96" y="70" width="0.6" height="7" fill="#089981"/>
<rect x="443.54" y="70" width="0.6" height="184.5" fill="#f23645"/>
<rect x="441.64" y="70.2" width="4.4" height="57.2" fill="#f23645"/>
<rect x="449.33" y="85" width="0.6" height="53.2" fill="#089981"/>
<rect x="447.43" y="92.3" width="4.4" height="35.1" fill="#089981"/>
<rect x="455.13" y="89.9" width="0.6" height="38.5" fill="#f23645"/>
<rect x="453.23" y="92.3" width="4.4" height="30.2" fill="#f23645"/>
<rect x="460.93" y="113.8" width="0.6" height="43.9" fill="#f23645"/>
<rect x="459.03" y="122.5" width="4.4" height="19.2" fill="#f23645"/>
<rect x="466.72" y="121.6" width="0.6" height="19.8" fill="#089981"/>
<rect x="464.82" y="126" width="4.4" height="15.4" fill="#089981"/>
<rect x="472.52" y="100.5" width="0.6" height="30.8" fill="#089981"/>
<rect x="470.62" y="121" width="4.4" height="5" fill="#089981"/>
<rect x="478.32" y="118.6" width="0.6" height="17.2" fill="#f23645"/>
<rect x="476.42" y="121" width="4.4" height="4.5" fill="#f23645"/>
<rect x="484.11" y="84.5" width="0.6" height="41" fill="#089981"/>
<rect x="482.21" y="93.3" width="4.4" height="32.2" fill="#089981"/>
<rect x="489.91" y="77.2" width="0.6" height="17" fill="#089981"/>
<rect x="488.01" y="87.4" width="4.4" height="6.2" fill="#089981"/>
<rect x="495.71" y="78.6" width="0.6" height="24.8" fill="#f23645"/>
<rect x="493.81" y="87.4" width="4.4" height="13.6" fill="#f23645"/>
<rect x="501.5" y="93.3" width="0.6" height="35.1" fill="#f23645"/>
<rect x="499.6" y="101" width="4.4" height="6.9" fill="#f23645"/>
<rect x="507.3" y="100" width="0.6" height="27.4" fill="#089981"/>
<rect x="505.4" y="104.4" width="4.4" height="3.5" fill="#089981"/>
<rect x="513.1" y="104" width="0.6" height="73.3" fill="#f23645"/>
<rect x="511.2" y="104" width="4.4" height="51.6" fill="#f23645"/>
<rect x="518.89" y="122.2" width="0.6" height="49.3" fill="#089981"/>
<rect x="516.99" y="154.3" width="4.4" height="1.6" fill="#089981"/>
<rect x="524.69" y="128.8" width="0.6" height="34.9" fill="#089981"/>
<rect x="522.79" y="142.5" width="4.4" height="12.3" fill="#089981"/>
<rect x="530.49" y="95.8" width="0.6" height="55.1" fill="#089981"/>
<rect x="528.58" y="105" width="4.4" height="37.7" fill="#089981"/>
<rect x="536.28" y="97.7" width="0.6" height="39.5" fill="#f23645"/>
<rect x="534.38" y="105" width="4.4" height="22" fill="#f23645"/>
<rect x="542.08" y="104" width="0.6" height="48.2" fill="#f23645"/>
<rect x="540.18" y="127" width="4.4" height="23.3" fill="#f23645"/>
<rect x="547.87" y="140" width="0.6" height="24.6" fill="#f23645"/>
<rect x="545.97" y="149.9" width="4.4" height="4.5" fill="#f23645"/>
<rect x="553.67" y="139.7" width="0.6" height="35.3" fill="#089981"/>
<rect x="551.77" y="153.4" width="4.4" height="1.5" fill="#089981"/>
<rect x="559.47" y="153.8" width="0.6" height="38.8" fill="#f23645"/>
<rect x="557.57" y="153.8" width="4.4" height="34.9" fill="#f23645"/>
<rect x="565.26" y="183.6" width="0.6" height="33.4" fill="#f23645"/>
<rect x="563.36" y="188.7" width="4.4" height="7.8" fill="#f23645"/>
<rect x="571.06" y="142.5" width="0.6" height="54" fill="#089981"/>
<rect x="569.16" y="152" width="4.4" height="44.5" fill="#089981"/>
<rect x="576.86" y="146" width="0.6" height="18.6" fill="#f23645"/>
<rect x="574.96" y="151.6" width="4.4" height="1.6" fill="#f23645"/>
<rect x="582.65" y="144" width="0.6" height="18.7" fill="#f23645"/>
<rect x="580.75" y="153" width="4.4" height="6.8" fill="#f23645"/>
<rect x="588.45" y="152.8" width="0.6" height="11.2" fill="#f23645"/>
<rect x="586.55" y="159.4" width="4.4" height="4.6" fill="#f23645"/>
<rect x="594.25" y="158.8" width="0.6" height="32.2" fill="#f23645"/>
<rect x="592.35" y="163" width="4.4" height="1.2" fill="#f23645"/>
<rect x="600.04" y="153" width="0.6" height="24.3" fill="#f23645"/>
<rect x="598.14" y="163.7" width="4.4" height="9.3" fill="#f23645"/>
<rect x="605.84" y="169.5" width="0.6" height="17.2" fill="#f23645"/>
<rect x="603.94" y="173" width="4.4" height="10.6" fill="#f23645"/>
<rect x="611.64" y="168.6" width="0.6" height="21" fill="#089981"/>
<rect x="609.74" y="176.8" width="4.4" height="6.7" fill="#089981"/>
<rect x="617.43" y="160.2" width="0.6" height="22.6" fill="#f23645"/>
<rect x="615.53" y="176.8" width="4.4" height="4.7" fill="#f23645"/>
<rect x="623.23" y="178.9" width="0.6" height="13.9" fill="#f23645"/>
<rect x="621.33" y="181.4" width="4.4" height="5.8" fill="#f23645"/>
<rect x="629.03" y="180.3" width="0.6" height="15.4" fill="#f23645"/>
<rect x="627.13" y="187.2" width="4.4" height="4.6" fill="#f23645"/>
<rect x="634.82" y="186.3" width="0.6" height="25.4" fill="#f23645"/>
<rect x="632.92" y="191.6" width="4.4" height="8" fill="#f23645"/>
<rect x="640.62" y="190.2" width="0.6" height="28.9" fill="#f23645"/>
<rect x="638.72" y="199.6" width="4.4" height="19.5" fill="#f23645"/>
<rect x="646.42" y="195" width="0.6" height="29.4" fill="#089981"/>
<rect x="644.51" y="199" width="4.4" height="20.1" fill="#089981"/>
<rect x="652.21" y="196" width="0.6" height="8.8" fill="#f23645"/>
<rect x="650.31" y="199" width="4.4" height="4.9" fill="#f23645"/>
<rect x="658.01" y="203.9" width="0.6" height="10.3" fill="#f23645"/>
<rect x="656.11" y="203.9" width="4.4" height="6.2" fill="#f23645"/>
<rect x="663.8" y="205.8" width="0.6" height="10.8" fill="#f23645"/>
<rect x="661.9" y="210.1" width="4.4" height="3.1" fill="#f23645"/>
<rect x="669.6" y="208.7" width="0.6" height="4.5" fill="#089981"/>
<rect x="667.7" y="209.7" width="4.4" height="3.5" fill="#089981"/>
<rect x="675.4" y="201.3" width="0.6" height="11.4" fill="#089981"/>
<rect x="673.5" y="208.4" width="4.4" height="1.5" fill="#089981"/>
<rect x="681.19" y="206.8" width="0.6" height="11.7" fill="#f23645"/>
<rect x="679.29" y="208.2" width="4.4" height="5.4" fill="#f23645"/>
<rect x="686.99" y="183.4" width="0.6" height="32.8" fill="#089981"/>
<rect x="685.09" y="187.3" width="4.4" height="26.3" fill="#089981"/>
<rect x="692.79" y="169.3" width="0.6" height="21.5" fill="#089981"/>
<rect x="690.89" y="174" width="4.4" height="13.3" fill="#089981"/>
<rect x="698.58" y="122.2" width="0.6" height="51.8" fill="#089981"/>
<rect x="696.68" y="140" width="4.4" height="34" fill="#089981"/>
<rect x="704.38" y="137.5" width="0.6" height="40.4" fill="#f23645"/>
<rect x="702.48" y="140" width="4.4" height="28.7" fill="#f23645"/>
<rect x="710.18" y="162.9" width="0.6" height="13.6" fill="#f23645"/>
<rect x="708.28" y="169.1" width="4.4" height="5.5" fill="#f23645"/>
<rect x="715.97" y="171.3" width="0.6" height="11.5" fill="#f23645"/>
<rect x="714.07" y="174.6" width="4.4" height="5.4" fill="#f23645"/>
<rect x="721.77" y="158" width="0.6" height="22.4" fill="#089981"/>
<rect x="719.87" y="166.2" width="4.4" height="14.2" fill="#089981"/>
<rect x="727.57" y="166.2" width="0.6" height="17.6" fill="#f23645"/>
<rect x="725.67" y="166.2" width="4.4" height="11.3" fill="#f23645"/>
<rect x="733.36" y="175.5" width="0.6" height="14.3" fill="#f23645"/>
<rect x="731.46" y="177.5" width="4.4" height="12.3" fill="#f23645"/>
<rect x="739.16" y="183.4" width="0.6" height="29.6" fill="#f23645"/>
<rect x="737.26" y="189.8" width="4.4" height="16.6" fill="#f23645"/>
<rect x="744.96" y="190.2" width="0.6" height="18.6" fill="#089981"/>
<rect x="743.06" y="200.9" width="4.4" height="5.3" fill="#089981"/>
<rect x="750.75" y="194.1" width="0.6" height="12.3" fill="#f23645"/>
<rect x="748.85" y="200.5" width="4.4" height="2" fill="#f23645"/>
<rect x="756.55" y="197" width="0.6" height="21.5" fill="#f23645"/>
<rect x="754.65" y="202.5" width="4.4" height="1.6" fill="#f23645"/>
<rect x="762.35" y="198" width="0.6" height="10.4" fill="#089981"/>
<rect x="760.44" y="202.7" width="4.4" height="1.4" fill="#089981"/>
<rect x="768.14" y="201.7" width="0.6" height="32.05" fill="#f23645"/>
<rect x="766.24" y="202.8" width="4.4" height="28.2" fill="#f23645"/>
<rect x="773.94" y="228.3" width="0.6" height="39" fill="#f23645"/>
<rect x="772.04" y="231" width="4.4" height="22.75" fill="#f23645"/>
<rect x="779.73" y="243" width="0.6" height="20.4" fill="#f23645"/>
<rect x="777.83" y="253.3" width="4.4" height="2" fill="#f23645"/>
<rect x="785.53" y="250.2" width="0.6" height="63.55" fill="#f23645"/>
<rect x="783.63" y="255.2" width="4.4" height="58.55" fill="#f23645"/>
<rect x="791.33" y="261" width="0.6" height="67" fill="#089981"/>
<rect x="789.43" y="280.5" width="4.4" height="32.8" fill="#089981"/>
<rect x="797.12" y="273" width="0.6" height="14.5" fill="#089981"/>
<rect x="795.22" y="278.1" width="4.4" height="2.4" fill="#089981"/>
<rect x="802.92" y="275" width="0.6" height="18" fill="#f23645"/>
<rect x="801.02" y="278.1" width="4.4" height="10.65" fill="#f23645"/>
<rect x="808.72" y="279" width="0.6" height="12.9" fill="#089981"/>
<rect x="806.82" y="282.8" width="4.4" height="5.95" fill="#089981"/>
<rect x="814.51" y="240.3" width="0.6" height="42.5" fill="#089981"/>
<rect x="812.61" y="271.9" width="4.4" height="10.9" fill="#089981"/>
<rect x="820.31" y="265.2" width="0.6" height="14.5" fill="#f23645"/>
<rect x="818.41" y="270.75" width="4.4" height="1.2" fill="#f23645"/>
<rect x="826.11" y="269.5" width="0.6" height="16.75" fill="#f23645"/>
<rect x="824.21" y="271.9" width="4.4" height="10.9" fill="#f23645"/>
<rect x="831.9" y="273.4" width="0.6" height="12.6" fill="#089981"/>
<rect x="830" y="278.6" width="4.4" height="4.2" fill="#089981"/>
<rect x="837.7" y="278.6" width="0.6" height="15.9" fill="#f23645"/>
<rect x="835.8" y="278.6" width="4.4" height="4.5" fill="#f23645"/>
<g fill="none" stroke="#5aa84f" stroke-width="1.7" stroke-linecap="butt" stroke-linejoin="miter">
<line x1="860.8" y1="282" x2="860.8" y2="376"/>
<polyline points="851.4,367.4 860.8,377.2 870.7,367.4" stroke-width="1.6"/>
</g>
<text x="706.4" y="382.7" font-size="10.2" fill="#0c0e15" textLength="30.6" lengthAdjust="spacingAndGlyphs" font-weight="bold">Target</text>
<rect x="801.3" y="383.2" width="119" height="15.6" rx="2.5" fill="#b9cbe8"/>
<text x="807.5" y="393.9" font-size="8.2" fill="#2a3a55" textLength="107.7" lengthAdjust="spacingAndGlyphs">−0.59665 (−42.41%) −59,665</text>
<circle cx="838" cy="514.2" r="6" fill="#fff" stroke="#a650c8" stroke-width="1.2"/>
<path d="M831.5,512.7 Q832.2,515.8 835.3,516.5 Q832.2,517.2 831.5,520.3 Q830.8,517.2 827.7,516.5 Q830.8,515.8 831.5,512.7Z" fill="#6a4cff" stroke="#fff" stroke-width="0.6"/>
<circle cx="850" cy="514.2" r="6" fill="#fff" stroke="#f23645" stroke-width="1.25"/>
<g clip-path="url(#f2)">
<rect x="844" y="510" width="12" height="1.7" fill="#ef5350"/>
<rect x="844" y="513.4" width="12" height="1.7" fill="#ef5350"/>
<rect x="844" y="517" width="12" height="1.7" fill="#ef5350"/>
<rect x="844" y="508.20000000000005" width="7.2" height="6.9" fill="#4a97e8"/>
</g>
<circle cx="843.6" cy="514.2" r="6" fill="#fff" stroke="#f23645" stroke-width="1.25"/>
<g clip-path="url(#f1)">
<rect x="837.6" y="510" width="12" height="1.7" fill="#ef5350"/>
<rect x="837.6" y="513.4" width="12" height="1.7" fill="#ef5350"/>
<rect x="837.6" y="517" width="12" height="1.7" fill="#ef5350"/>
<rect x="837.6" y="508.20000000000005" width="7.2" height="6.9" fill="#4a97e8"/>
</g>
</g>
<g stroke="#f1f1f4" stroke-width="1" fill="none">
<rect x="6.4" y="16.4" width="1011.3" height="523"/>
<line x1="6.4" y1="70.2" x2="1017.7" y2="70.2"/>
</g>
<text x="976.6" y="27.2" font-size="8.3" fill="#343844" textLength="21" lengthAdjust="spacingAndGlyphs">80.00</text>
<text x="976.6" y="55.5" font-size="8.3" fill="#343844" textLength="21" lengthAdjust="spacingAndGlyphs">40.00</text>
<text x="976.6" y="509" font-size="8.3" fill="#343844" textLength="30" lengthAdjust="spacingAndGlyphs">0.00000</text>
<text x="976.6" y="477.24" font-size="8.3" fill="#343844" textLength="30" lengthAdjust="spacingAndGlyphs">0.20000</text>
<text x="976.6" y="445.48" font-size="8.3" fill="#343844" textLength="30" lengthAdjust="spacingAndGlyphs">0.40000</text>
<text x="976.6" y="413.72" font-size="8.3" fill="#343844" textLength="30" lengthAdjust="spacingAndGlyphs">0.60000</text>
<text x="976.6" y="381.96" font-size="8.3" fill="#343844" textLength="30" lengthAdjust="spacingAndGlyphs">0.80000</text>
<text x="976.6" y="350.2" font-size="8.3" fill="#343844" textLength="30" lengthAdjust="spacingAndGlyphs">1.00000</text>
<text x="976.6" y="318.44" font-size="8.3" fill="#343844" textLength="30" lengthAdjust="spacingAndGlyphs">1.20000</text>
<text x="976.6" y="286.68" font-size="8.3" fill="#343844" textLength="30" lengthAdjust="spacingAndGlyphs">1.40000</text>
<text x="976.6" y="254.92" font-size="8.3" fill="#343844" textLength="30" lengthAdjust="spacingAndGlyphs">1.60000</text>
<text x="976.6" y="223.16" font-size="8.3" fill="#343844" textLength="30" lengthAdjust="spacingAndGlyphs">1.80000</text>
<text x="976.6" y="191.4" font-size="8.3" fill="#343844" textLength="30" lengthAdjust="spacingAndGlyphs">2.00000</text>
<text x="976.6" y="159.64" font-size="8.3" fill="#343844" textLength="30" lengthAdjust="spacingAndGlyphs">2.20000</text>
<text x="976.6" y="127.88" font-size="8.3" fill="#343844" textLength="30" lengthAdjust="spacingAndGlyphs">2.40000</text>
<text x="976.6" y="96.12" font-size="8.3" fill="#343844" textLength="30" lengthAdjust="spacingAndGlyphs">2.60000</text>
<rect x="971" y="50" width="29.5" height="10" rx="1" fill="#7e57c2"/>
<text x="977.1" y="57.85" font-size="8.3" fill="#fff" textLength="20.5" lengthAdjust="spacingAndGlyphs">36.33</text>
<rect x="971" y="60" width="29.5" height="10" rx="1" fill="#fbd144"/>
<text x="977.1" y="67.85" font-size="8.3" fill="#15192a" textLength="20.5" lengthAdjust="spacingAndGlyphs">34.47</text>
<rect x="972" y="72" width="45" height="19.3" fill="#fff"/>
<rect x="973.5" y="73.5" width="43" height="15" rx="2" fill="#fff" stroke="#eeeff3" stroke-width="1"/>
<text x="979.2" y="83.4" font-size="7.8" fill="#131722" textLength="15.2" lengthAdjust="spacingAndGlyphs" stroke="#131722" stroke-width="0.22">USD</text>
<rect x="971" y="122.1" width="39" height="9.9" rx="1" fill="#8b008b"/>
<text x="977.1" y="129.9" font-size="8.3" fill="#fff" textLength="29.6" lengthAdjust="spacingAndGlyphs">2.38324</text>
<rect x="971" y="134" width="39" height="9.8" rx="1" fill="#8b0000"/>
<text x="977.1" y="141.75" font-size="8.3" fill="#fff" textLength="29.6" lengthAdjust="spacingAndGlyphs">2.31179</text>
<rect x="971" y="204" width="39" height="10" rx="1" fill="#ffff00"/>
<text x="977.1" y="211.85" font-size="8.3" fill="#15192a" textLength="29.6" lengthAdjust="spacingAndGlyphs">1.87004</text>
<rect x="971" y="278.1" width="41" height="18.8" rx="1.5" fill="#f23645"/>
<text x="977.1" y="286.3" font-size="8.3" fill="#fff" textLength="29.3" lengthAdjust="spacingAndGlyphs">1.40504</text>
<text x="977.1" y="294.9" font-size="8.3" fill="#fff" textLength="31.2" lengthAdjust="spacingAndGlyphs" fill-opacity="0.8">10:09:14</text>
<rect x="971" y="297" width="39" height="10.5" rx="1" fill="#2962ff"/>
<text x="977.1" y="305.1" font-size="8.3" fill="#fff" textLength="29.6" lengthAdjust="spacingAndGlyphs">1.38000</text>
<rect x="971" y="373" width="39" height="10" rx="1" fill="#2962ff"/>
<text x="977.1" y="380.85" font-size="8.3" fill="#fff" textLength="29.6" lengthAdjust="spacingAndGlyphs">0.80590</text>
<rect x="971" y="491.8" width="37.5" height="10" rx="1" fill="#ef5350"/>
<text x="977.1" y="499.65" font-size="8.3" fill="#fff" textLength="27.5" lengthAdjust="spacingAndGlyphs">25.79 M</text>
<text x="67" y="534" font-size="7.9" fill="#2e323d" text-anchor="middle">Jun</text>
<text x="154.2" y="534" font-size="7.9" fill="#2e323d" text-anchor="middle">Jul</text>
<text x="241.2" y="534" font-size="7.9" fill="#2e323d" text-anchor="middle">Aug</text>
<text x="333.5" y="534" font-size="7.9" fill="#2e323d" text-anchor="middle">Sep</text>
<text x="420.4" y="534" font-size="7.9" fill="#2e323d" text-anchor="middle">Oct</text>
<text x="507.3" y="534" font-size="7.9" fill="#2e323d" text-anchor="middle">Nov</text>
<text x="594.3" y="534" font-size="7.9" fill="#2e323d" text-anchor="middle">Dec</text>
<text x="780.3" y="534" font-size="7.9" fill="#2e323d" text-anchor="middle">Feb</text>
<text x="861.3" y="534" font-size="7.9" fill="#2e323d" text-anchor="middle">Mar</text>
<text x="948.5" y="534" font-size="7.9" fill="#2e323d" text-anchor="middle">Apr</text>
<text x="687.3" y="534" font-size="8.3" fill="#131722" textLength="19.3" lengthAdjust="spacingAndGlyphs" font-weight="bold" text-anchor="middle">2026</text>
<g fill="#131722"><path d="M7.6,553.4H15.8V562.6H11.1V557.3H7.6Z"/><circle cx="18.3" cy="555.1" r="1.75"/><path d="M21.1,553.4H25.3L21.9,562.6H17.6Z"/></g>
<text x="30.7" y="562.6" font-size="12.7" fill="#131722" textLength="74.2" lengthAdjust="spacingAndGlyphs" font-weight="bold">TradingView</text>
</svg>
</body></html>
